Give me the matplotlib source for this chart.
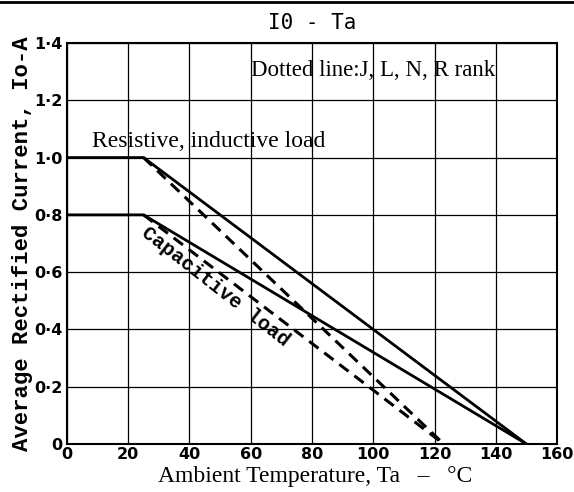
import matplotlib.pyplot as plt
import matplotlib.lines as mlines

# derating curves (Ta in degC, Io in A)
res_solid_t = [0, 25, 150]
res_solid_io = [1.0, 1.0, 0.0]
cap_solid_t = [0, 25, 150]
cap_solid_io = [0.8, 0.8, 0.0]
res_dash_t = [25, 123]
res_dash_io = [1.0, 0.0]
cap_dash_t = [25, 123]
cap_dash_io = [0.8, 0.0]

xticks = [0, 20, 40, 60, 80, 100, 120, 140, 160]
yticks = [0, 0.2, 0.4, 0.6, 0.8, 1.0, 1.2, 1.4]
ytick_labels = ["0", "0·2", "0·4", "0·6", "0·8", "1·0", "1·2", "1·4"]

fig = plt.figure(figsize=(5.74, 4.92), dpi=100)
ax = fig.add_axes([0.1167, 0.0976, 0.8537, 0.815])

ax.plot(res_solid_t, res_solid_io, color="black", lw=2.0)
ax.plot(cap_solid_t, cap_solid_io, color="black", lw=2.0)
ax.plot(res_dash_t, res_dash_io, color="black", lw=2.2, dashes=(3.8, 2.4))
ax.plot(cap_dash_t, cap_dash_io, color="black", lw=2.2, dashes=(3.8, 2.4))

ax.set_xlim(0, 160)
ax.set_ylim(0, 1.4)
ax.set_xticks(xticks)
ax.set_yticks(yticks)
ax.set_yticklabels(ytick_labels)
ax.tick_params(axis="y", length=0, pad=3)
ax.tick_params(axis="x", length=0, pad=2)
for lab in ax.get_xticklabels() + ax.get_yticklabels():
    lab.set_fontweight("bold")
    lab.set_fontsize(11.5)
ax.grid(True, color="black", lw=0.9)
for s in ax.spines.values():
    s.set_linewidth(1.5)

ax.set_title("I0 - Ta", family="DejaVu Sans Mono", fontsize=15, pad=10)
ax.set_ylabel("Average Rectified Current, Io-A", family="Liberation Mono",
              fontweight="bold", fontsize=16, labelpad=1)
fig.text(0.5488, 0.021, "Ambient Temperature, Ta   –   °C", family="Liberation Serif",
         fontsize=17, ha="center", va="baseline")

ax.text(100.1, 1.2855, "Dotted line:J, L, N, R rank", family="Liberation Serif",
        fontsize=16.5, ha="center", va="baseline")
ax.text(46.4, 1.0356, "Resistive, inductive load", family="Liberation Serif",
        fontsize=17, ha="center", va="baseline")
ax.text(48.5, 0.55, "Capacitive load", family="Liberation Mono", fontweight="bold",
        fontsize=14.5, ha="center", va="center", rotation=-38)

# rule across the top of the page
fig.add_artist(mlines.Line2D([0, 1], [0.995, 0.995], color="black", lw=2))

fig.savefig("out.png")
